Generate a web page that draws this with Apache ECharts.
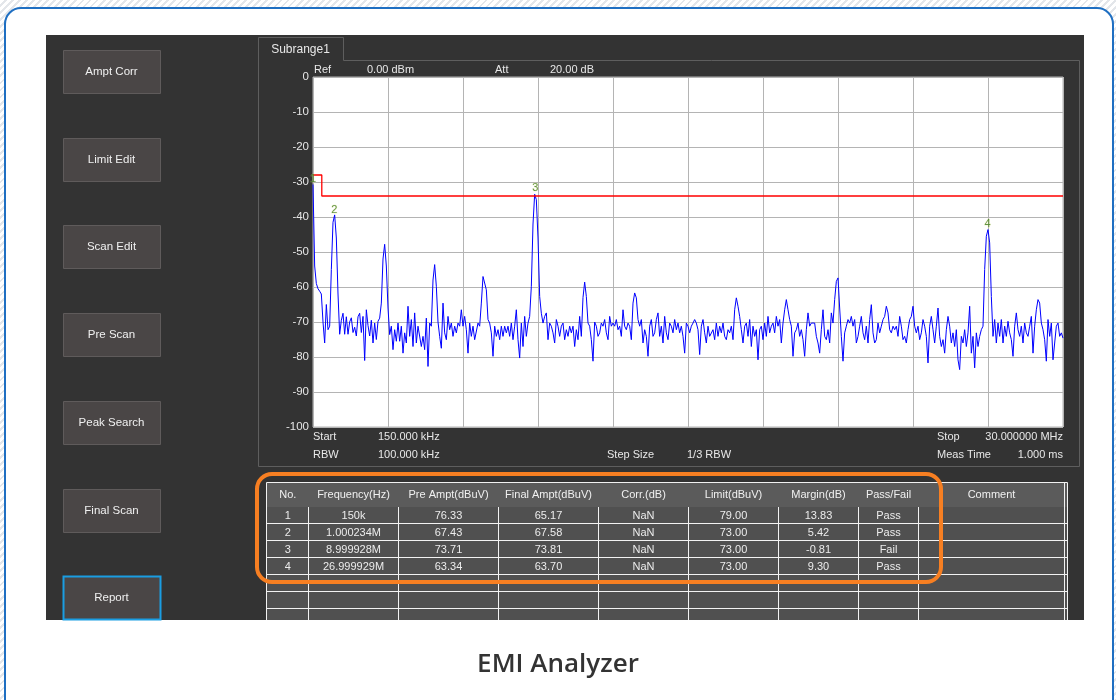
<!DOCTYPE html>
<html><head><meta charset="utf-8">
<script src="https://cdn.jsdelivr.net/npm/echarts@6/dist/echarts.min.js"></script>
<style>
html,body{margin:0;padding:0;}
body{width:1116px;height:700px;overflow:hidden;background:repeating-linear-gradient(135deg,#ffffff 0 3px,#e3e6ea 3px 5px);}
#c{width:1116px;height:700px;}
</style></head><body><div id="c"></div>
<script>
// ---------------- data ----------------
const sweepStartMHz = 0.15;
const sweepStopMHz = 30;
const yTickValues = [0, -10, -20, -30, -40, -50, -60, -70, -80, -90, -100];
const refOffsetDbuV = 107; // 0 dBm reference expressed in dBuV

// trace level (dBm), 0.15 .. ~11.5 MHz
const traceBandA = [
 -30.7, -54, -59, -60.5, -61.2, -62, -70, -76, -65, -72.2,
 -71.2, -55, -41.5, -39.4, -46, -62, -73.5, -69.5, -67.5, -73.5,
 -68.5, -73.5, -70, -68.8, -73, -71.5, -74, -68.5, -67.5, -73,
 -68.4, -81, -66.5, -71, -74, -69.5, -76, -70.3, -75, -69.8,
 -68.9, -64.6, -52, -47.8, -54, -66, -73.6, -71.2, -77.9, -72.2,
 -75.5, -70.3, -75.5, -71.2, -78.9, -73.1, -76, -65.5, -74.1, -69.3,
 -77, -67.4, -76, -71.2, -71.2, -77, -74.1, -77.9, -68.9, -82.7,
 -70.3, -71.2, -58, -53.6, -59.8, -70, -74.1, -77.5, -64.6, -73.1,
 -75.05, -68.4, -72.2, -70.3, -74.1, -71.2, -73.1, -70.3, -71.2, -66.5,
 -71.2, -68.4, -72.2, -78.9, -70.3, -74.1, -71.2, -75.05, -75.05, -70.3,
 -71.2, -64.6, -57, -56.5, -60.8, -69.3, -70.3, -73.1, -79.8, -71.2,
 -74.1, -72.2, -75.05, -71.2, -74.1, -71.2, -73.1, -71.2, -74.1, -70.3,
 -75.05, -71.2, -66.5, -75.05, -80.3, -70.3, -77, -68.4, -74.1, -70.3,
 -68.4, -59.8, -42, -33.5, -35.05, -46, -62.7, -67.5, -70.3, -68.4,
 -67.4, -75.05, -70.3, -71.2, -73.1, -76, -69.3, -71.2, -74.1, -71.2,
 -70.3, -75.05, -72.2, -74.1, -71.2, -73.1, -71.2, -77, -72.2, -75.05,
 -68.4, -74.1, -63, -58.6, -62.7, -70.3, -71.2, -75.05, -81.2, -70,
 -71.2, -74.1, -73.1
];
// trace level (dBm), ~11.5 .. 30 MHz
const traceBandB = [
 -70.3, -71.2, -69.3, -73.1, -75.05, -68.4, -71.2, -70.3, -71.2, -69.3,
 -72.2, -71.2, -74.1, -66.5, -71.2, -72.2, -70.3, -71.2, -75.05, -64.6,
 -61.7, -63.1, -69.3, -71.2, -69.3, -76, -72.2, -74.1, -79.8, -71.2,
 -69.3, -74.1, -73.1, -69.3, -67.4, -74.1, -71.2, -76, -68.4, -73.1,
 -75.05, -70.3, -71.2, -73.1, -69.3, -72.2, -70.3, -73.1, -71.2, -74.1,
 -78.9, -70.3, -71.2, -73.1, -71.2, -70.3, -69.3, -70.3, -72.2, -79.3,
 -71.2, -69.3, -73.1, -76, -71.2, -74.1, -74.1, -72.2, -75.05, -70.3,
 -74.1, -71.2, -73.1, -70.3, -74.1, -75.05, -72.2, -73.1, -71.2, -75.05,
 -66.5, -63.1, -65.5, -68.4, -72.2, -76, -71.2, -70.3, -74.1, -69.3,
 -77, -71.2, -74.1, -72.2, -80.8, -72.2, -71.2, -75.05, -70.3, -74.1,
 -68.4, -73.1, -71.2, -70.3, -73.1, -68.4, -71.2, -69.3, -76, -70.3,
 -66.5, -63.6, -66.5, -69.3, -71.2, -79.8, -73.1, -72.2, -70.3, -74.1,
 -72.2, -75.05, -79.8, -72.2, -67.4, -71.2, -70.3, -70.8, -70.3, -74.1,
 -76, -78.9, -72.2, -66.5, -74.1, -75.05, -72.2, -76, -67.4, -70.3,
 -63.6, -58.4, -57.4, -66, -74.1, -81.2, -73.1, -71.2, -69.3, -70.3,
 -68.4, -71.2, -69.3, -76, -74.1, -71.2, -68.4, -73.1, -75.05, -71.2,
 -76, -69.3, -65.05, -73.1, -76, -75.05, -70.3, -73.1, -71.2, -69.3,
 -68.4, -65.5, -67.4, -72.2, -73.1, -71.2, -72.2, -71.2, -74.1, -68.4,
 -71.2, -75.05, -74.1, -76, -72.2, -69.3, -68.4, -65.5, -71.2, -73.1,
 -71.2, -75.05, -73.1, -69.3, -71.2, -74.1, -81.7, -71.2, -68.4, -72.2,
 -76, -71.2, -66, -74.1, -77, -75.05, -78.9, -72.2, -68.4, -71.2,
 -76, -73.1, -77, -72.2, -80.8, -83.6, -74.1, -76, -72.2, -77,
 -73.1, -65.5, -78.9, -74.1, -83.1, -73.1, -77, -74.1, -72.2, -71.2,
 -55, -45.5, -43.6, -47.4, -62.7, -74.1, -69.3, -76, -70.3, -74.1,
 -69.3, -76, -71.2, -74.1, -69.8, -73.1, -75.05, -79.8, -71.2, -67.4,
 -72.2, -74.1, -71.2, -76, -70.3, -73.1, -74.1, -71.2, -68.4, -78.9,
 -71.2, -66.5, -63.6, -64.6, -70.3, -72.2, -75.05, -81.2, -69.3, -74.1,
 -70.3, -80.8, -81.2, -71.2, -70.3, -74.1, -73.1, -74.6
];

const limitFreqMHz = [0.15, 0.5, 0.5, 30];
const limitDbm = [-28, -28, -34, -34];

const markerNo = ['1', '2', '3', '4'];
const markerFreqMHz = [0.15, 1.000234, 8.999928, 26.999929];

const tableHeaders = ['No.', 'Frequency(Hz)', 'Pre Ampt(dBuV)', 'Final Ampt(dBuV)', 'Corr.(dB)', 'Limit(dBuV)', 'Margin(dB)', 'Pass/Fail', 'Comment'];
const colNo = ['1', '2', '3', '4'];
const colFreq = ['150k', '1.000234M', '8.999928M', '26.999929M'];
const colPreAmpt = [76.33, 67.43, 73.71, 63.34];
const colFinalAmpt = [65.17, 67.58, 73.81, 63.70];
const colCorr = ['NaN', 'NaN', 'NaN', 'NaN'];
const colLimit = [79.00, 73.00, 73.00, 73.00];
const colMargin = [13.83, 5.42, -0.81, 9.30];
const colResult = ['Pass', 'Pass', 'Fail', 'Pass'];
const colComment = ['', '', '', ''];

const buttonLabels = ['Ampt Corr', 'Limit Edit', 'Scan Edit', 'Pre Scan', 'Peak Search', 'Final Scan', 'Report'];

const headerInfoTop = [['Ref', '0.00 dBm'], ['Att', '20.00 dB']];
const footerLeft = [['Start', '150.000 kHz'], ['RBW', '100.000 kHz']];
const footerMid = ['Step Size', '1/3 RBW'];
const footerRight = [['Stop', '30.000000 MHz'], ['Meas Time', '1.000 ms']];
const pageTitle = 'EMI Analyzer';
const tabTitle = 'Subrange1';

// ---------------- build ----------------
const traceLevels = traceBandA.concat(traceBandB);
const sweepStep = (sweepStopMHz - sweepStartMHz) / (traceLevels.length - 1);
const traceData = traceLevels.map((v, i) => [sweepStartMHz + i * sweepStep, v]);
const limitData = limitFreqMHz.map((f, i) => [f, limitDbm[i]]);
const markerData = markerFreqMHz.map((f, i) => ({ value: [f, colPreAmpt[i] - refOffsetDbuV], name: markerNo[i] }));

const UI_FONT = '"Liberation Sans", "DejaVu Sans", sans-serif';
const TXT = '#e8e8e8';
const G = [];
function rect(x, y, w, h, style, z, r) {
  G.push({ type: 'rect', silent: true, z: z, shape: { x: x, y: y, width: w, height: h, r: r || 0 }, style: style });
}
function line(x1, y1, x2, y2, stroke, w, z) {
  G.push({ type: 'line', silent: true, z: z, shape: { x1: x1, y1: y1, x2: x2, y2: y2 }, style: { stroke: stroke, lineWidth: w || 1 } });
}
function text(str, x, y, align, z, extra) {
  const st = Object.assign({ text: str, fill: TXT, font: '11px ' + UI_FONT, textAlign: align || 'left', align: align || 'left', textVerticalAlign: 'middle', verticalAlign: 'middle' }, extra || {});
  G.push({ type: 'text', silent: true, z: z || 10, x: x, y: y, style: st });
}

// page card + dark panel
rect(5, 8, 1108, 740, { fill: '#ffffff', stroke: '#1f6fc2', lineWidth: 2 }, -20, 16);
rect(46, 35, 1038, 585, { fill: '#333333' }, -19);
// chart frame + tab
G.push({ type: 'polyline', silent: true, z: -18, shape: { points: [[343.5, 60.5], [1079.5, 60.5], [1079.5, 466.5], [258.5, 466.5], [258.5, 37.5], [343.5, 37.5], [343.5, 60.5]] }, style: { stroke: '#5e5e5e', lineWidth: 1, fill: null } });
text(tabTitle, 300.5, 50, 'center', 10, { font: '12px ' + UI_FONT });

// buttons
const btnTops = [50, 138, 225, 313, 401, 489, 576];
buttonLabels.forEach((b, i) => {
  const isActive = i === buttonLabels.length - 1;
  rect(63.5, btnTops[i] + 0.5, 97, 43, { fill: '#4a4646', stroke: isActive ? '#1a9de2' : '#5f5b5b', lineWidth: isActive ? 2 : 1 }, -15);
  text(b, 111.5, btnTops[i] + 22, 'center', 10, { fill: '#f0f0f0', font: '11.5px ' + UI_FONT });
});

// info texts
text(headerInfoTop[0][0], 314, 70, 'left');
text(headerInfoTop[0][1], 367, 70, 'left');
text(headerInfoTop[1][0], 495, 70, 'left');
text(headerInfoTop[1][1], 550, 70, 'left');
text(footerLeft[0][0], 313, 437, 'left');
text(footerLeft[0][1], 378, 437, 'left');
text(footerLeft[1][0], 313, 455, 'left');
text(footerLeft[1][1], 378, 455, 'left');
text(footerMid[0], 607, 455, 'left');
text(footerMid[1], 687, 455, 'left');
text(footerRight[0][0], 937, 437, 'left');
text(footerRight[0][1], 1063, 437, 'right');
text(footerRight[1][0], 937, 455, 'left');
text(footerRight[1][1], 1063, 455, 'right');

// table
const colEdges = [267, 308.5, 398.5, 498.5, 598.5, 688.5, 778.5, 858.5, 918.5, 1064.5];
const tTop = 482.5, hdrBottom = 507, rowH = 17, tBottom = 620;
rect(267, tTop, 800, hdrBottom - tTop, { fill: '#5b5b5b' }, -14);
rect(267, hdrBottom, 800, tBottom - hdrBottom, { fill: '#505050' }, -14);
line(266.5, tTop, 1067.5, tTop, '#f2f2f2', 1, -13);
line(266.5, tTop, 266.5, tBottom, '#f2f2f2', 1, -13);
line(1064.5, tTop, 1064.5, tBottom, '#f2f2f2', 1, -13);
line(1067.5, tTop, 1067.5, tBottom, '#f2f2f2', 1, -13);
for (let k = 1; k < 7; k++) {
  const yy = hdrBottom + k * rowH - 0.5;
  line(266.5, yy, 1067.5, yy, '#f2f2f2', 1, -13);
}
for (let c = 1; c < colEdges.length - 1; c++) {
  line(colEdges[c], hdrBottom, colEdges[c], tBottom, '#f2f2f2', 1, -13);
}
const colCenters = colEdges.slice(0, -1).map((e, i) => (e + colEdges[i + 1]) / 2);
tableHeaders.forEach((h, i) => text(h, colCenters[i], 495, 'center', 10, { fill: '#f0f0f0' }));
const cols = [colNo, colFreq, colPreAmpt.map(v => v.toFixed(2)), colFinalAmpt.map(v => v.toFixed(2)), colCorr,
  colLimit.map(v => v.toFixed(2)), colMargin.map(v => v.toFixed(2)), colResult, colComment];
for (let r = 0; r < colNo.length; r++) {
  cols.forEach((col, c) => text(String(col[r]), colCenters[c], hdrBottom + r * rowH + 8.5, 'center', 10, { fill: '#ececec' }));
}
// orange highlight
rect(257, 474, 684, 108, { fill: null, stroke: '#f77f22', lineWidth: 4 }, 30, 15);

// title
text(pageTitle, 558, 665, 'center', 10, { fill: '#333333', font: '600 26px "Open Sans", "Noto Sans", sans-serif' });

const chart = echarts.init(document.getElementById('c'), null, { renderer: 'canvas' });
chart.setOption({
  animation: false,
  backgroundColor: 'transparent',
  grid: { left: 313, top: 77, width: 750, height: 350, show: true, backgroundColor: '#ffffff', borderColor: '#b4b4b4', borderWidth: 1, containLabel: false },
  xAxis: {
    type: 'value', min: sweepStartMHz, max: sweepStopMHz, interval: (sweepStopMHz - sweepStartMHz) / 10,
    axisLabel: { show: false }, axisTick: { show: false }, axisLine: { show: false },
    splitLine: { show: true, lineStyle: { color: '#b4b4b4', width: 1 } }
  },
  yAxis: {
    type: 'value', min: yTickValues[yTickValues.length - 1], max: yTickValues[0], interval: 10,
    axisLabel: { color: '#e6e6e6', fontSize: 11.5, fontFamily: UI_FONT, margin: 4 },
    axisTick: { show: false }, axisLine: { show: false },
    splitLine: { show: true, lineStyle: { color: '#b4b4b4', width: 1 } }
  },
  graphic: { elements: G },
  series: [
    { type: 'line', data: traceData, showSymbol: false, symbol: 'none', lineStyle: { color: '#0000ff', width: 1 }, clip: true, z: 3 },
    { type: 'line', data: limitData, showSymbol: false, symbol: 'none', lineStyle: { color: '#ff0000', width: 1.3 }, clip: true, z: 4 },
    { type: 'scatter', data: markerData, symbolSize: 0, z: 5,
      label: { show: true, position: 'top', distance: 0, formatter: p => p.name, color: '#3f7d1f', fontSize: 11, fontFamily: UI_FONT, textBorderColor: 'rgba(220,220,120,0.35)', textBorderWidth: 1 } }
  ]
});
</script></body></html>
